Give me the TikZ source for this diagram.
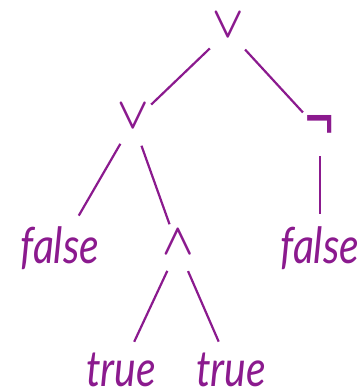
\documentclass[tikz,border=0pt]{standalone}
\usepackage{fontspec}
\setmainfont{Lato}
\usepackage{graphicx}
\usepackage{tikz}
\definecolor{koyuMor}{HTML}{8B1A8E}
\newcommand{\dar}[1]{\scalebox{0.82}[1]{#1}}
\newcommand{\buyuk}[1]{\scalebox{4.1}[4.4]{\boldmath$#1$}}

\begin{document}
\begin{tikzpicture}[x=1pt,y=-1pt,
  islem/.style={circle,minimum size=50pt,inner sep=0pt,text depth=12pt,text=koyuMor},
  yaprak/.style={rectangle,inner sep=2pt,text=koyuMor,font=\fontsize{50}{50}\selectfont\itshape},
  kenar/.style={koyuMor,line width=2.2pt},
  yaprakKenar/.style={kenar,shorten >=10pt}]
\useasboundingbox (0,0) rectangle (362,388);
\node[islem] (kok) at (228,31) {\buyuk{\vee}};
\node[islem] (solVe) at (133,122) {\buyuk{\vee}};
\node[islem,text depth=0pt,font=\fontsize{56}{56}\selectfont] (degil) at (320,131) {\scalebox{1}[1.5]{¬}};
\node[yaprak] (yanlis1) at (60,248) {\dar{false}};
\node[islem] (ve) at (178,248) {\buyuk{\wedge}};
\node[yaprak] (yanlis2) at (320,248) {\dar{false}};
\node[yaprak] (dogru1) at (121,370) {\dar{true}};
\node[yaprak] (dogru2) at (231,370) {\dar{true}};
\draw[kenar] (kok) -- (solVe);
\draw[kenar] (kok) -- (degil);
\draw[yaprakKenar] (solVe) -- (yanlis1);
\draw[kenar] (solVe) -- (ve);
\draw[yaprakKenar] (degil) -- (yanlis2);
\draw[yaprakKenar] (ve) -- (dogru1);
\draw[yaprakKenar] (ve) -- (dogru2);
\end{tikzpicture}
\end{document}
